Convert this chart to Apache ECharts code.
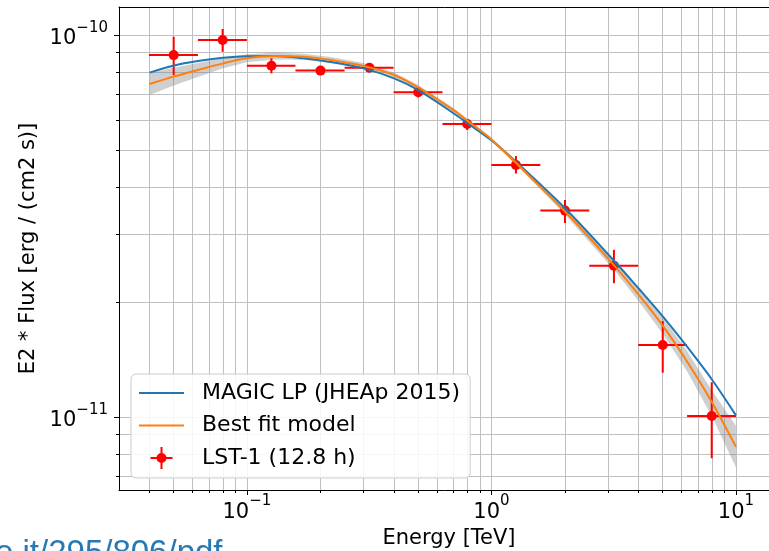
<!DOCTYPE html>
<html><head><meta charset="utf-8">
<script src="https://cdn.jsdelivr.net/npm/echarts@6/dist/echarts.min.js"></script>
<style>html,body{margin:0;padding:0;background:#fff}#c{width:769px;height:551px}</style>
</head><body><div id="c"></div>
<script>
// ---- data ----
const binCenters = [0.0502, 0.0796, 0.126, 0.2, 0.317, 0.502, 0.796, 1.26, 2.0, 3.17, 5.02, 7.96];
const binLow     = [0.0398, 0.0631, 0.1, 0.158, 0.251, 0.398, 0.631, 1.0, 1.585, 2.512, 3.981, 6.31];
const binHigh    = [0.0631, 0.1, 0.158, 0.251, 0.398, 0.631, 1.0, 1.585, 2.512, 3.981, 6.31, 10.0];
const fluxLST    = [8.86e-11, 9.70e-11, 8.31e-11, 8.07e-11, 8.21e-11, 7.08e-11, 5.85e-11, 4.57e-11, 3.47e-11, 2.49e-11, 1.543e-11, 1.006e-11];
const fluxErrLo  = [7.86e-11, 9.04e-11, 7.94e-11, 7.89e-11, 8.01e-11, 6.87e-11, 5.64e-11, 4.34e-11, 3.22e-11, 2.24e-11, 1.306e-11, 7.80e-12];
const fluxErrHi  = [9.90e-11, 1.037e-10, 8.69e-11, 8.26e-11, 8.41e-11, 7.25e-11, 6.02e-11, 4.82e-11, 3.70e-11, 2.74e-11, 1.784e-11, 1.233e-11];

const modelEnergy = [0.04, 0.05, 0.063, 0.08, 0.1, 0.13, 0.17, 0.22, 0.3, 0.4, 0.5, 0.7, 0.8, 1.0, 1.25, 2.0, 3.2, 4.0, 5.0, 6.3, 8.0, 10.0];
const magicLP     = [7.97e-11, 8.31e-11, 8.55e-11, 8.72e-11, 8.80e-11, 8.81e-11, 8.69e-11, 8.50e-11, 8.18e-11, 7.70e-11, 7.18e-11, 6.24e-11, 5.87e-11, 5.30e-11, 4.68e-11, 3.52e-11, 2.55e-11, 2.17e-11, 1.84e-11, 1.53e-11, 1.25e-11, 1.01e-11];
const bestFit     = [7.44e-11, 7.78e-11, 8.10e-11, 8.43e-11, 8.69e-11, 8.81e-11, 8.77e-11, 8.60e-11, 8.30e-11, 7.86e-11, 7.30e-11, 6.36e-11, 5.96e-11, 5.33e-11, 4.65e-11, 3.45e-11, 2.48e-11, 2.09e-11, 1.74e-11, 1.40e-11, 1.09e-11, 8.36e-12];
const bandHigh    = [7.95e-11, 8.21e-11, 8.45e-11, 8.69e-11, 8.90e-11, 9.00e-11, 8.93e-11, 8.76e-11, 8.45e-11, 7.98e-11, 7.41e-11, 6.44e-11, 6.03e-11, 5.39e-11, 4.71e-11, 3.51e-11, 2.55e-11, 2.17e-11, 1.83e-11, 1.49e-11, 1.17e-11, 9.49e-12];
const bandLow     = [6.97e-11, 7.36e-11, 7.77e-11, 8.18e-11, 8.48e-11, 8.63e-11, 8.62e-11, 8.45e-11, 8.15e-11, 7.74e-11, 7.19e-11, 6.29e-11, 5.89e-11, 5.26e-11, 4.60e-11, 3.39e-11, 2.41e-11, 2.01e-11, 1.66e-11, 1.32e-11, 1.00e-11, 7.37e-12];

const xMajorTicks = [0.1, 1, 10];
const xMinorTicks = [0.04,0.05,0.06,0.07,0.08,0.09,0.2,0.3,0.4,0.5,0.6,0.7,0.8,0.9,2,3,4,5,6,7,8,9];
const yMajorTicks = [1e-11, 1e-10];
const yMinorTicks = [7e-12,8e-12,9e-12,2e-11,3e-11,4e-11,5e-11,6e-11,7e-11,8e-11,9e-11];
const xRange = [0.03, 15];
const yRange = [6.44e-12, 1.184e-10];

const seriesNames = ['MAGIC LP (JHEAp 2015)', 'Best fit model', 'LST-1 (12.8 h)'];
const urlText = 'e.it/295/806/pdf';

// ---- chart ----
const FONT = 'DejaVu Sans';
function sci(v) {
  const e = Math.round(Math.log10(v));
  return '{a|10}{b|' + (e < 0 ? '\u2212' : '') + Math.abs(e) + '}';
}
const richSci = {
  a: {fontSize: 21, fontFamily: FONT, color: '#000', lineHeight: 29, verticalAlign: 'bottom'},
  b: {fontSize: 15, fontFamily: FONT, color: '#000', lineHeight: 15, verticalAlign: 'top'}
};
const gridLine = {show: true, lineStyle: {color: '#c0c0c0', width: 1}};
const blk = {color: '#000', width: 1};

const xBase = {type: 'log', logBase: 10, min: xRange[0], max: xRange[1], gridIndex: 0};
const yBase = {type: 'log', logBase: 10, min: yRange[0], max: yRange[1], gridIndex: 0};

const errData = binCenters.map((x, i) => [x, fluxLST[i], binLow[i], binHigh[i], fluxErrLo[i], fluxErrHi[i]]);
const lstData = binCenters.map((x, i) => [x, fluxLST[i]]);

const chart = echarts.init(document.getElementById('c'), null, {renderer: 'canvas'});
chart.setOption({
  animation: false,
  backgroundColor: '#fff',
  textStyle: {fontFamily: FONT},
  grid: {left: 119, top: 7, width: 660, height: 483, outerBoundsMode: 'none', containLabel: false},
  xAxis: [
    Object.assign({}, xBase, {
      position: 'bottom',
      axisLine: {show: true, onZero: false, lineStyle: blk},
      axisTick: {show: true, inside: false, length: 5, customValues: xMajorTicks, lineStyle: blk},
      axisLabel: {show: true, customValues: xMajorTicks, formatter: sci, margin: 4, rich: richSci},
      splitLine: gridLine,
      name: 'Energy [TeV]', nameLocation: 'middle', nameGap: 35,
      nameTextStyle: {fontSize: 21, fontFamily: FONT, color: '#000'}
    }),
    Object.assign({}, xBase, {
      position: 'bottom',
      axisLine: {show: false, onZero: false},
      axisTick: {show: true, inside: false, length: 3, customValues: xMinorTicks, lineStyle: blk},
      axisLabel: {show: false},
      splitLine: gridLine
    }),
    Object.assign({}, xBase, {
      position: 'top',
      axisLine: {show: true, onZero: false, lineStyle: blk},
      axisTick: {show: false}, axisLabel: {show: false}, splitLine: {show: false}
    })
  ],
  yAxis: [
    Object.assign({}, yBase, {
      position: 'left',
      axisLine: {show: true, onZero: false, lineStyle: blk},
      axisTick: {show: true, inside: false, length: 5, customValues: yMajorTicks, lineStyle: blk},
      axisLabel: {show: true, customValues: yMajorTicks, formatter: sci, margin: 11, rich: richSci},
      splitLine: gridLine,
      name: 'E2 * Flux [erg / (cm2 s)]', nameLocation: 'middle', nameGap: 78, nameRotate: 90,
      nameTextStyle: {fontSize: 21, fontFamily: FONT, color: '#000'}
    }),
    Object.assign({}, yBase, {
      position: 'left',
      axisLine: {show: false, onZero: false},
      axisTick: {show: true, inside: false, length: 3, customValues: yMinorTicks, lineStyle: blk},
      axisLabel: {show: false},
      splitLine: gridLine
    })
  ],
  legend: {
    orient: 'vertical', left: 131, top: 374,
    padding: [8, 10, 9, 8],
    itemWidth: 45, itemHeight: 22, itemGap: 10.5,
    backgroundColor: 'rgba(255,255,255,0.85)',
    borderColor: '#cccccc', borderWidth: 1, borderRadius: 5,
    textStyle: {fontSize: 22, fontFamily: FONT, color: '#000', padding: [0, 0, 0, 13]},
    data: [
      {name: seriesNames[0], icon: 'path://M0,0H45V2.2H0Z'},
      {name: seriesNames[1], icon: 'path://M0,0H45V2.2H0Z'},
      {name: seriesNames[2], icon: 'path://M0,10H22V12H0Z M10,0H12V22H10Z M6,11A5,5 0 1,1 16,11A5,5 0 1,1 6,11Z'}
    ]
  },
  graphic: [{
    type: 'text', left: -5, top: 537, silent: true,
    style: {text: urlText, fontSize: 33, fontFamily: 'Liberation Sans', fill: '#2878b3'}
  }],
  series: [
    {
      name: 'band', type: 'custom', xAxisIndex: 0, yAxisIndex: 0, z: 2, silent: true,
      data: [[modelEnergy[0], bandHigh[0]]],
      renderItem: function (params, api) {
        const pts = [];
        for (let i = 0; i < modelEnergy.length; i++) pts.push(api.coord([modelEnergy[i], bandHigh[i]]));
        for (let i = modelEnergy.length - 1; i >= 0; i--) pts.push(api.coord([modelEnergy[i], bandLow[i]]));
        return {type: 'polygon', shape: {points: pts, smooth: 0}, style: {fill: 'rgba(128,128,128,0.38)', stroke: 'none'}};
      }
    },
    {
      name: 'errorbars', type: 'custom', xAxisIndex: 0, yAxisIndex: 0, z: 3, silent: true,
      encode: {x: 0, y: 1},
      data: errData,
      renderItem: function (params, api) {
        const x = api.value(0), y = api.value(1);
        const pl = api.coord([api.value(2), y]), pr = api.coord([api.value(3), y]);
        const pb = api.coord([x, api.value(4)]), pt = api.coord([x, api.value(5)]);
        const st = {stroke: '#ff0000', lineWidth: 2};
        return {type: 'group', children: [
          {type: 'line', shape: {x1: pl[0], y1: pl[1], x2: pr[0], y2: pr[1]}, style: st},
          {type: 'line', shape: {x1: pt[0], y1: pt[1], x2: pb[0], y2: pb[1]}, style: st}
        ]};
      }
    },
    {
      name: seriesNames[2], type: 'scatter', xAxisIndex: 0, yAxisIndex: 0, z: 4,
      symbol: 'circle', symbolSize: 10, itemStyle: {color: '#ff0000', opacity: 1},
      data: lstData
    },
    {
      name: seriesNames[0], type: 'line', xAxisIndex: 0, yAxisIndex: 0, z: 5,
      showSymbol: false, symbol: 'none', smooth: 0.3,
      color: '#1f77b4', lineStyle: {color: '#1f77b4', width: 2},
      data: modelEnergy.map((x, i) => [x, magicLP[i]])
    },
    {
      name: seriesNames[1], type: 'line', xAxisIndex: 0, yAxisIndex: 0, z: 6,
      showSymbol: false, symbol: 'none', smooth: 0.3,
      color: '#ff7f0e', lineStyle: {color: '#ff7f0e', width: 2},
      data: modelEnergy.map((x, i) => [x, bestFit[i]])
    }
  ]
});
</script>
</body></html>
